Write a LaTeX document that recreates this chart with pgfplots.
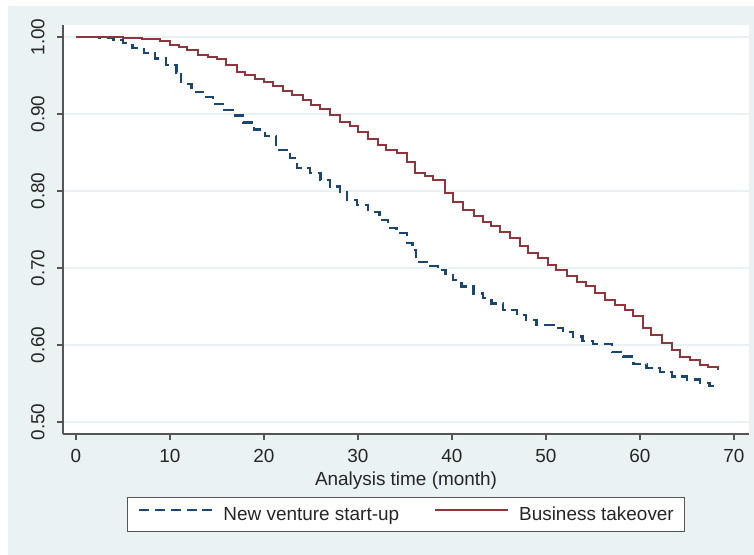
\documentclass[border=0pt]{standalone}
\usepackage{fontspec}
\setmainfont{Liberation Sans}
\usepackage{pgfplots}
\pgfplotsset{compat=1.18}
\usetikzlibrary{backgrounds}
\definecolor{bgc}{RGB}{234,242,243}
\definecolor{gridc}{RGB}{232,241,243}
\definecolor{navyS}{RGB}{26,71,111}
\definecolor{maroonS}{RGB}{144,53,59}
\definecolor{axgray}{RGB}{85,85,85}
\pgfplotstableread{
t S
0 1.000
2.5 0.999
4 0.996
5 0.992
6 0.986
7.2 0.979
8.4 0.972
9.6 0.964
10.7 0.954
11.2 0.939
12.3 0.929
13.5 0.922
14.6 0.913
15.6 0.905
16.7 0.898
17.8 0.889
18.9 0.880
20.1 0.871
21.3 0.853
22.8 0.843
23.5 0.830
24.9 0.823
26.0 0.814
27.0 0.806
28.1 0.799
28.8 0.788
29.9 0.782
31.1 0.773
32.3 0.762
33.2 0.752
34.1 0.745
35.2 0.732
35.8 0.723
36.2 0.708
37.7 0.703
38.5 0.697
39.3 0.692
40.1 0.684
41.0 0.676
42.3 0.667
43.3 0.661
44.2 0.654
45.4 0.645
46.9 0.639
47.9 0.632
49.0 0.626
50.8 0.622
51.8 0.617
52.9 0.611
53.9 0.605
55.0 0.601
57.0 0.591
58.2 0.585
59.3 0.575
60.7 0.570
62.1 0.565
63.4 0.559
65.0 0.555
66.4 0.551
67.4 0.547
68.3 0.547
}\newventure
\pgfplotstableread{
t S
0 1.000
5 0.999
7 0.997
8.9 0.995
10 0.990
11 0.987
11.8 0.983
13 0.977
14 0.974
15 0.971
16 0.964
17.1 0.954
18 0.951
19 0.946
20 0.941
21 0.936
22 0.930
23 0.925
24.2 0.918
25 0.912
26 0.907
27 0.899
28.1 0.890
29.2 0.884
30 0.877
31.1 0.868
32.1 0.860
33 0.853
34.1 0.849
35.2 0.838
36.1 0.824
37.1 0.819
38 0.814
39.3 0.797
40.1 0.786
41.2 0.775
42.3 0.767
43.3 0.760
44.2 0.754
45.1 0.747
46.2 0.739
47.2 0.728
48.1 0.719
49.2 0.713
50.2 0.704
51.1 0.697
52.2 0.689
53.3 0.682
54.3 0.676
55.2 0.668
56.3 0.658
57.3 0.652
58.4 0.645
59.3 0.637
60.3 0.622
61.2 0.613
62.3 0.602
63.4 0.594
64.3 0.585
65.3 0.580
66.4 0.574
67.2 0.571
68.3 0.568
}\takeover
\begin{document}
\begin{tikzpicture}[x=1bp,y=1bp]
\begin{axis}[
  at={(63bp,121bp)}, anchor=south west,
  scale only axis, width=686bp, height=409bp,
  xmin=-1.383, xmax=71.6, ymin=0.4844, ymax=1.0156,
  axis background/.style={fill=white},
  axis x line*=bottom, axis y line*=left,
  axis line style={draw=axgray, line width=1.5bp, -},
  xtick={0,10,20,30,40,50,60,70},
  ytick={0.5,0.6,0.7,0.8,0.9,1.0},
  tick align=outside, major tick length=6bp,
  tick style={draw=axgray, line width=1.5bp},
  /pgf/number format/assume math mode=true,
  tick label style={font=\fontsize{19}{23}\selectfont, text=black!85},
  label style={font=\fontsize{19}{23}\selectfont, text=black!85},
  yticklabel style={rotate=90, anchor=south, /pgf/number format/.cd, fixed, fixed zerofill, precision=2},
  yticklabel shift=9bp, xticklabel shift=6bp,
  ymajorgrids, major grid style={draw=gridc, line width=1.5bp},
  xlabel={Analysis time (month)},
  xlabel style={at={(axis description cs:0.5,-0.114)}, anchor=center},
  legend columns=2,
  legend image code/.code={\draw[#1] (0bp,5bp) -- (73bp,5bp);},
  legend style={at={(0.5,-0.154)}, anchor=north, draw=axgray, line width=1.2bp, fill=white,
    font=\fontsize{19}{23}\selectfont, text=black!85, inner xsep=10.5bp, inner ysep=9.5bp,
    cells={anchor=west}, nodes={inner sep=0pt},
    /tikz/every odd column/.append style={column sep=10bp},
    /tikz/every even column/.append style={column sep=35bp}},
]
\addplot[const plot, draw=navyS, line width=2.3bp, dash pattern=on 10bp off 5.75bp] table[x=t,y=S] {\newventure};
\addlegendentry{New venture start-up}
\addplot[const plot, draw=maroonS, line width=2bp] table[x=t,y=S] {\takeover};
\addlegendentry{Business takeover}
\end{axis}
\begin{scope}[on background layer]
\fill[white] (0,0) rectangle (754,555);
\fill[bgc] (8,0) rectangle (754,549);
\end{scope}
\pgfresetboundingbox
\useasboundingbox (0,0) rectangle (754,555);
\end{tikzpicture}
\end{document}
